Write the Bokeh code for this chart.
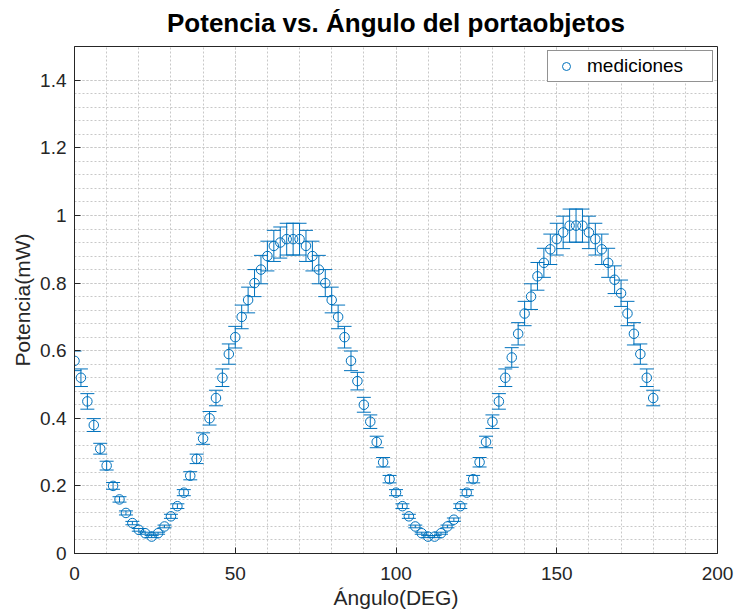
from bokeh.plotting import figure
from bokeh.models import (ColumnDataSource, Whisker, TeeHead, FixedTicker,
                          NumeralTickFormatter, Range1d)
from bokeh.embed import file_html
from bokeh.resources import INLINE

# ---- data ----
angle = list(range(0, 181, 2))
power = [0.57, 0.52, 0.45, 0.38, 0.31, 0.26, 0.20, 0.16, 0.12, 0.09,
         0.07, 0.06, 0.05, 0.06, 0.08, 0.11, 0.14, 0.18, 0.23, 0.28,
         0.34, 0.40, 0.46, 0.52, 0.59, 0.64, 0.70, 0.75, 0.80, 0.84,
         0.88, 0.91, 0.92, 0.93, 0.93, 0.93, 0.91, 0.88, 0.84, 0.80,
         0.75, 0.70, 0.64, 0.57, 0.51, 0.44, 0.39, 0.33, 0.27, 0.22,
         0.18, 0.14, 0.11, 0.08, 0.06, 0.05, 0.05, 0.06, 0.08, 0.10,
         0.14, 0.18, 0.22, 0.27, 0.33, 0.39, 0.45, 0.52, 0.58, 0.65,
         0.71, 0.76, 0.82, 0.86, 0.90, 0.93, 0.95, 0.97, 0.97, 0.97,
         0.95, 0.93, 0.90, 0.86, 0.81, 0.77, 0.71, 0.65, 0.59, 0.52,
         0.46]
error = [0.029, 0.026, 0.023, 0.019, 0.016, 0.013, 0.010, 0.008, 0.006, 0.005,
         0.004, 0.003, 0.003, 0.003, 0.004, 0.006, 0.007, 0.009, 0.012, 0.014,
         0.017, 0.020, 0.023, 0.026, 0.030, 0.032, 0.035, 0.038, 0.040, 0.042,
         0.044, 0.046, 0.046, 0.047, 0.047, 0.047, 0.046, 0.044, 0.042, 0.040,
         0.038, 0.035, 0.032, 0.029, 0.026, 0.022, 0.020, 0.017, 0.014, 0.011,
         0.009, 0.007, 0.006, 0.004, 0.003, 0.003, 0.003, 0.003, 0.004, 0.005,
         0.007, 0.009, 0.011, 0.014, 0.017, 0.020, 0.023, 0.026, 0.029, 0.033,
         0.036, 0.038, 0.041, 0.043, 0.045, 0.047, 0.048, 0.049, 0.049, 0.049,
         0.048, 0.047, 0.045, 0.043, 0.041, 0.039, 0.036, 0.033, 0.030, 0.026,
         0.023]

x_ticks = [0, 50, 100, 150, 200]
y_ticks = [0, 0.2, 0.4, 0.6, 0.8, 1.0, 1.2, 1.4]

TITLE = "Potencia vs. Ángulo del portaobjetos"
XLABEL = "Ángulo(DEG)"
YLABEL = "Potencia(mW)"
LEGEND = "mediciones"

BLUE = "#0072BD"
AX = "#262626"
FONT = "Liberation Sans"

src = ColumnDataSource(data=dict(
    x=angle, y=power,
    upper=[v + e for v, e in zip(power, error)],
    lower=[v - e for v, e in zip(power, error)],
))

p = figure(width=735, height=613, output_backend="svg", toolbar_location=None,
           x_range=Range1d(0, 200), y_range=Range1d(0, 1.5),
           min_border_left=74, min_border_right=18, min_border_top=46,
           min_border_bottom=60, background_fill_color="white",
           border_fill_color="white")

p.title.text = TITLE
p.title.align = "center"
p.title.vertical_align = "top"
p.title.text_font = FONT
p.title.text_font_size = "26px"
p.title.text_font_style = "bold"
p.title.text_color = "black"
p.title.standoff = 14

x_minor = list(range(0, 201, 10))
y_minor = [round(0.04 * i, 2) for i in range(0, 36)]

def style_axis(ax, ticks, minor, label, standoff, lab_standoff):
    ax.ticker = FixedTicker(ticks=ticks, minor_ticks=minor)
    ax.formatter = NumeralTickFormatter(format="0.[0]")
    ax.axis_line_color = AX
    ax.major_tick_line_color = AX
    ax.major_tick_in = 6
    ax.major_tick_out = 0
    ax.minor_tick_in = 0
    ax.minor_tick_out = 0
    ax.major_label_text_font = FONT
    ax.major_label_text_color = AX
    ax.major_label_text_font_size = "19px"
    ax.major_label_standoff = standoff
    ax.axis_label = label
    ax.axis_label_text_font = FONT
    ax.axis_label_text_font_size = "21px"
    ax.axis_label_text_font_style = "normal"
    ax.axis_label_text_color = AX
    ax.axis_label_standoff = lab_standoff

style_axis(p.xaxis[0], x_ticks, x_minor, XLABEL, 13, 3)
style_axis(p.yaxis[0], y_ticks, y_minor, YLABEL, 8, 3)

for g, ticks, minor in ((p.xgrid[0], x_ticks, x_minor), (p.ygrid[0], y_ticks, y_minor)):
    g.ticker = FixedTicker(ticks=ticks, minor_ticks=minor)
    g.grid_line_color = "#c8c8c8"
    g.grid_line_dash = "2 2"
    g.grid_line_width = 1
    g.minor_grid_line_color = "#c8c8c8"
    g.minor_grid_line_dash = "2 2"
    g.minor_grid_line_width = 1

p.outline_line_color = AX
p.outline_line_width = 1

whisk = Whisker(source=src, base="x", upper="upper", lower="lower",
                line_color=BLUE, line_width=1,
                upper_head=TeeHead(size=14, line_color=BLUE, line_width=1),
                lower_head=TeeHead(size=14, line_color=BLUE, line_width=1))
p.add_layout(whisk)

p.scatter("x", "y", source=src, marker="circle", size=9.5, fill_color=None,
          line_color=BLUE, line_width=1, legend_label=LEGEND)

lg = p.legend[0]
lg.location = "top_right"
lg.margin = 4
lg.padding = 4
lg.spacing = 0
lg.glyph_width = 28
lg.glyph_height = 20
lg.label_height = 20
lg.label_width = 121
lg.label_standoff = 7
lg.label_text_font = FONT
lg.label_text_font_size = "19px"
lg.label_text_color = "black"
lg.border_line_color = AX
lg.border_line_width = 1
lg.background_fill_color = "white"
lg.background_fill_alpha = 1

open("out.html", "w").write(file_html(p, INLINE))
